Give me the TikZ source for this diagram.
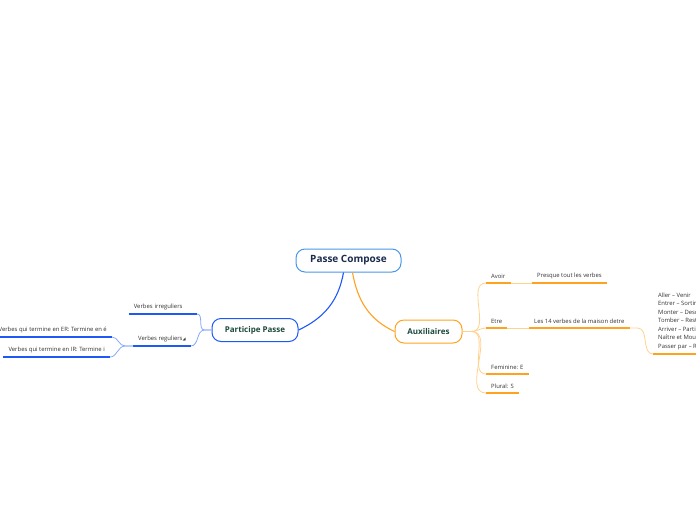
\documentclass[tikz,border=0pt]{standalone}
\usepackage{fontspec}
\setmainfont{Open Sans}
\newfontfamily\symfont{DejaVu Sans}
\usetikzlibrary{positioning, calc}
\definecolor{rootBlue}{HTML}{4A96E6}
\definecolor{rootText}{HTML}{1B2B4D}
\definecolor{topicText}{HTML}{1C4A3B}
\definecolor{ppBlue}{HTML}{1E58F5}
\definecolor{ppLight}{HTML}{86A8FF}
\definecolor{auxOrange}{HTML}{FFA21F}
\definecolor{auxLight}{HTML}{FFD28E}
\definecolor{leafText}{HTML}{333333}

\begin{document}
\begin{tikzpicture}[x=1pt, y=1pt,
  root/.style={draw=rootBlue, line width=1pt, rounded corners=9pt,
               minimum width=105pt, minimum height=23pt,
               font=\fontsize{10}{11}\selectfont\bfseries, text=rootText},
  topic/.style={draw=#1, line width=1pt, rounded corners=9pt,
                minimum height=23pt, inner xsep=0pt,
                font=\fontsize{8}{9}\selectfont\bfseries, text=topicText},
  leaf/.style={font=\fontsize{5.9}{8.5}\selectfont, text=leafText,
               inner xsep=5pt, inner ysep=4pt, align=left},
  uline/.style={append after command={(\tikzlastnode.south west)
                edge[line width=2pt, draw=#1] (\tikzlastnode.south east)}},
  arr/.style={line width=1.1pt, #1},
  twig/.style={line width=0.8pt, #1}
]
\useasboundingbox (0,0) rectangle (696,-520);
\clip (0,0) rectangle (696,-520);

\node[root] (pc) at (348.5,-260.5) {Passe Compose};
\node[topic=ppBlue, minimum width=86pt] (pp) at (255,-330) {Participe Passe};
\node[topic=auxOrange, minimum width=67pt] (aux) at (428.5,-331.5) {Auxiliaires};

% participe passe
\node[leaf, uline=ppBlue, anchor=south east, text width=58pt] (irr) at (197,-314) {Verbes irreguliers};
\node[leaf, uline=ppBlue, anchor=south west] (reg) at (133,-346)
  {Verbes reguliers{\symfont\fontsize{4}{5}\selectfont ◢}};
\node[leaf, uline=ppBlue, anchor=south east] (er) at (112,-337)
  {Verbes qui termine en ER: Termine en é};
\node[leaf, uline=ppBlue, anchor=south east] (ir) at (110,-357)
  {Verbes qui termine en IR: Termine i};

% auxiliaires
\node[leaf, uline=auxOrange, anchor=south west] (avoir) at (486,-283) {Avoir};
\node[leaf, uline=auxOrange, anchor=south west] (presque) at (532,-283) {Presque tout les verbes};
\node[leaf, uline=auxOrange, anchor=south west] (etre) at (486,-328) {Etre};
\node[leaf, uline=auxOrange, anchor=south west] (les14) at (529,-328) {Les 14 verbes de la maison detre};
\node[leaf, uline=auxOrange, anchor=south west] (maison) at (653,-354)
  {Aller -- Venir\\Entrer -- Sortir\\Monter -- Descendre\\Tomber -- Rester\\
   Arriver -- Partir\\Naître et Mourir\\Passer par -- Retourner};
\node[leaf, uline=auxOrange, anchor=south west] (fem) at (486,-374) {Feminine: E};
\node[leaf, uline=auxOrange, anchor=south west] (plur) at (486,-393) {Plural: S};

\draw[arr=ppBlue] ($(pc.south)+(-5,0)$) to[out=-100, in=25] (pp.east);
\draw[arr=auxOrange] ($(pc.south)+(4,0)$) to[out=-80, in=155] (aux.west);

\draw[twig=ppLight] (pp.west) -- ++(-7,0) to[out=180, in=0] (irr.south east);
\draw[twig=ppLight] (pp.west) -- ++(-7,0) to[out=180, in=0] (reg.south east);
\draw[twig=ppLight] (reg.south west) -- ++(-8,0) to[out=180, in=0] (er.south east);
\draw[twig=ppLight] (reg.south west) -- ++(-8,0) to[out=180, in=0] (ir.south east);

\foreach \leafname in {avoir, etre, fem, plur}
  \draw[twig=auxLight] (aux.east) -- ++(9,0) to[out=0, in=180] (\leafname.south west);
\draw[twig=auxLight] (avoir.south east) -- (presque.south west);
\draw[twig=auxLight] (etre.south east) -- (les14.south west);
\draw[twig=auxLight] (les14.south east) -- ++(8,0) to[out=0, in=180] (maison.south west);
\end{tikzpicture}
\end{document}
